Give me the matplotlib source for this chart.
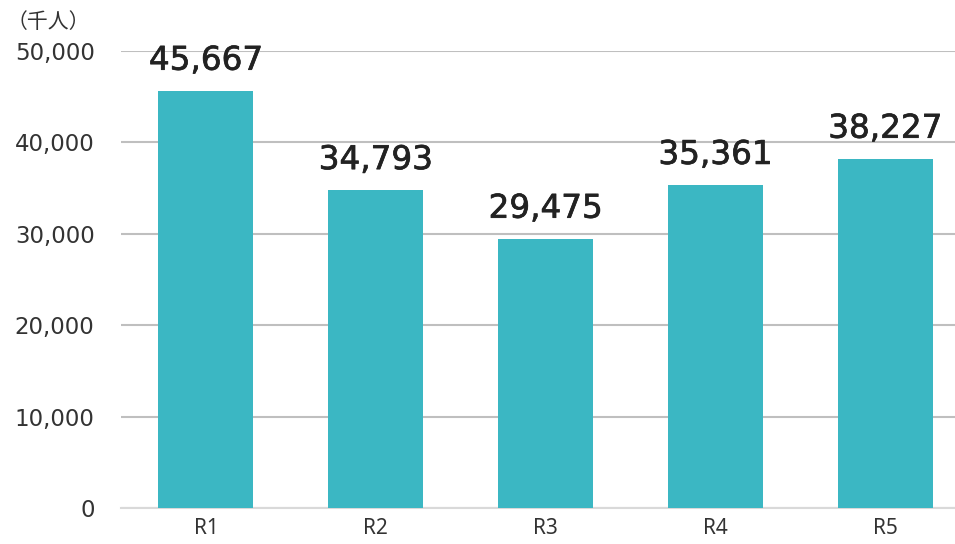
import matplotlib.pyplot as plt
import matplotlib.patheffects as pe
import numpy as np

plt.rcParams['font.family'] = ['Noto Sans CJK JP', 'DejaVu Sans']

categories = ['R1', 'R2', 'R3', 'R4', 'R5']
values = [45667, 34793, 29475, 35361, 38227]
yticks = [0, 10000, 20000, 30000, 40000, 50000]

fig = plt.figure(figsize=(9.55, 5.44), dpi=100)
ax = fig.add_axes([121 / 955, 1 - 508 / 544, 1 - 121 / 955, (508 - 51) / 544])

x = np.arange(len(categories))
bars = ax.bar(x, values, width=0.56, color='#3bb7c3', zorder=3)

# medium-weight look: regular glyphs with a thin outline
for xi, v in zip(x, values):
    ax.annotate(f'{v:,}', (xi, v), xytext=(0, 10), textcoords='offset points',
                ha='center', va='bottom', fontsize=23.5, family='DejaVu Sans',
                color='#222222',
                path_effects=[pe.withStroke(linewidth=0.5, foreground='#222222')])

ax.set_xlim(-0.5, 4.41)
ax.set_ylim(0, 50000)
ax.set_yticks(yticks)
ax.set_yticklabels([f'{t:,}' for t in yticks], family='DejaVu Sans', fontsize=16.5)
ax.set_xticks(x)
ax.set_xticklabels(categories, fontsize=15, family='Noto Sans')
ax.tick_params(axis='both', length=0, colors='#333333')
ax.tick_params(axis='y', pad=19)
ax.tick_params(axis='x', pad=7)

ax.yaxis.grid(True, color='#bfbfbf', linewidth=1.5, zorder=0)
for s in ['top', 'right', 'left']:
    ax.spines[s].set_visible(False)
ax.spines['bottom'].set_color('#d9d9d9')
ax.spines['bottom'].set_linewidth(1.5)

fig.text(48 / 955, 1 - 22 / 544, '（千人）', ha='center', va='center', fontsize=15, color='#333333')

fig.savefig('out.png', dpi=100)
